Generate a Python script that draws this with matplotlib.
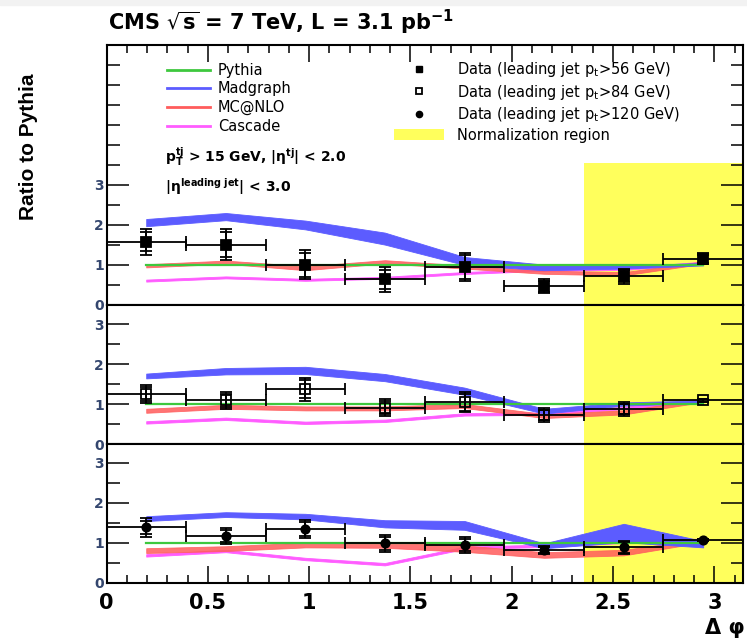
import matplotlib.pyplot as plt
from matplotlib.patches import Patch, Rectangle
from matplotlib.lines import Line2D
from matplotlib.ticker import MultipleLocator, FixedLocator
import numpy as np

plt.rcParams['font.family'] = ['DejaVu Sans']
plt.rcParams['mathtext.fontset'] = 'dejavusans'

# Delta phi bins (8 bins between 0 and pi)
dphi = [0.196, 0.589, 0.982, 1.374, 1.767, 2.160, 2.553, 2.945]
dphi_half = [0.196] * 8
norm_start = 2.356
norm_stop = np.pi

# Data / Pythia ratio, leading jet pt > 56 GeV (top panel)
data56 = [1.58, 1.51, 1.01, 0.64, 0.95, 0.47, 0.72, 1.16]
tot56 = [0.32, 0.39, 0.36, 0.31, 0.35, 0.18, 0.19, 0.14]
stat56 = [0.24, 0.31, 0.30, 0.24, 0.30, 0.14, 0.15, 0.10]
# leading jet pt > 84 GeV (middle panel)
data84 = [1.25, 1.09, 1.37, 0.91, 1.04, 0.73, 0.87, 1.09]
tot84 = [0.22, 0.21, 0.29, 0.21, 0.25, 0.17, 0.17, 0.04]
stat84 = [0.17, 0.16, 0.23, 0.17, 0.21, 0.13, 0.13, 0.03]
# leading jet pt > 120 GeV (bottom panel)
data120 = [1.39, 1.18, 1.35, 0.99, 0.95, 0.82, 0.89, 1.08]
tot120 = [0.23, 0.20, 0.23, 0.21, 0.19, 0.10, 0.17, 0.03]
stat120 = [0.17, 0.15, 0.18, 0.16, 0.15, 0.08, 0.13, 0.02]

# MC predictions / Pythia (centre and half width of the bands)
pythia = [1.0] * 8
mad56 = [2.06, 2.21, 2.00, 1.66, 1.10, 0.94, 0.95, 1.02]
mad56_w = [0.09, 0.09, 0.11, 0.15, 0.10, 0.07, 0.04, 0.03]
nlo56 = [0.98, 1.07, 0.92, 1.08, 0.95, 0.82, 0.78, 1.06]
nlo56_w = [0.04, 0.04, 0.05, 0.04, 0.04, 0.04, 0.04, 0.03]
casc56 = [0.61, 0.69, 0.63, 0.68, 0.80, 0.88, 0.90, 1.06]
casc56_w = [0.025] * 8

mad84 = [1.70, 1.82, 1.84, 1.66, 1.32, 0.82, 1.00, 1.06]
mad84_w = [0.06, 0.08, 0.09, 0.09, 0.09, 0.06, 0.04, 0.03]
nlo84 = [0.83, 0.93, 0.89, 0.89, 0.95, 0.70, 0.79, 1.08]
nlo84_w = [0.05, 0.05, 0.05, 0.05, 0.05, 0.05, 0.05, 0.03]
casc84 = [0.54, 0.63, 0.53, 0.58, 0.74, 0.76, 0.90, 1.08]
casc84_w = [0.03] * 8

mad120 = [1.61, 1.71, 1.66, 1.48, 1.44, 0.93, 1.25, 0.97]
mad120_w = [0.06, 0.06, 0.07, 0.09, 0.11, 0.06, 0.23, 0.08]
nlo120 = [0.81, 0.86, 0.95, 0.95, 0.86, 0.70, 0.76, 1.06]
nlo120_w = [0.06, 0.06, 0.06, 0.07, 0.08, 0.07, 0.07, 0.04]
casc120 = [0.69, 0.80, 0.60, 0.47, 0.88, 0.93, 1.03, 1.08]
casc120_w = [0.03] * 8

c_pythia = '#3ec83e'
c_mad = '#5c5cff'
c_nlo = '#ff5c5c'
c_casc = '#ff5cff'
c_norm = '#ffff5c'
c_ylab = '#34466e'


# Draw one panel: normalisation region, MC bands and data
def drawPanel(ax, ymax, ycut, vals, tot, stat, mstyle, mface, msize,
              mad, mad_w, nlo, nlo_w, casc, casc_w):
    ax.set_xlim(0, np.pi)
    ax.set_ylim(0, ymax)
    ax.axvspan(norm_start, norm_stop, ymin=0, ymax=ycut / ymax,
               color=c_norm, lw=0, zorder=0)
    for c, w, col, a in [(casc, casc_w, c_casc, 1.0), (nlo, nlo_w, c_nlo, 0.85),
                         (mad, mad_w, c_mad, 1.0)]:
        c = np.array(c)
        w = np.array(w)
        ax.fill_between(dphi, c - w, c + w, color=col, alpha=a, lw=0.6, zorder=2)
    ax.plot(dphi, pythia, color=c_pythia, lw=1.6, zorder=3)
    ax.errorbar(dphi, vals, xerr=dphi_half, yerr=tot, fmt=mstyle, ms=msize,
                mfc=mface, mec='black', mew=1.3, ecolor='black', elinewidth=1.3,
                capsize=4, capthick=1.3, zorder=5)
    ax.errorbar(dphi, vals, yerr=stat, fmt='none', ecolor='black',
                elinewidth=1.3, capsize=4, capthick=1.3, zorder=5)
    ax.xaxis.set_major_locator(MultipleLocator(0.5))
    ax.xaxis.set_minor_locator(MultipleLocator(0.1))
    ax.yaxis.set_major_locator(FixedLocator([0, 1, 2, 3]))
    ax.yaxis.set_minor_locator(MultipleLocator(0.5))
    ax.tick_params(axis='y', which='both', direction='in', left=True, right=True,
                   width=1.1, labelsize=10, labelcolor=c_ylab, pad=2)
    ax.tick_params(axis='y', which='major', length=16)
    ax.tick_params(axis='y', which='minor', length=9)
    ax.tick_params(axis='x', which='both', direction='in', top=False,
                   bottom=False, labelbottom=False, width=1.1)
    ax.tick_params(axis='x', which='major', length=12)
    ax.tick_params(axis='x', which='minor', length=6)
    for lab in ax.get_yticklabels():
        lab.set_fontweight('bold')
    for s in ax.spines.values():
        s.set_linewidth(1.5)


fig = plt.figure(figsize=(7.47, 6.4), dpi=100)
fig.patches.append(Rectangle((0, 1 - 5 / 640), 1, 5 / 640, transform=fig.transFigure,
                             color='#f2f2f2', zorder=-1))

left = 106.5 / 747
width = 636.5 / 747
ax1 = fig.add_axes([left, 1 - 305 / 640, width, 260 / 640])
ax2 = fig.add_axes([left, 1 - 444 / 640, width, 139 / 640])
ax3 = fig.add_axes([left, 1 - 583 / 640, width, 139 / 640])

drawPanel(ax1, 6.5, 3.55, data56, tot56, stat56, 's', 'black', 6.5,
          mad56, mad56_w, nlo56, nlo56_w, casc56, casc56_w)
drawPanel(ax2, 3.475, 3.475, data84, tot84, stat84, 's', 'none', 7,
          mad84, mad84_w, nlo84, nlo84_w, casc84, casc84_w)
drawPanel(ax3, 3.475, 3.475, data120, tot120, stat120, 'o', 'black', 6,
          mad120, mad120_w, nlo120, nlo120_w, casc120, casc120_w)

ax1.tick_params(axis='x', which='both', top=True)
ax3.tick_params(axis='x', which='both', bottom=True, labelbottom=True,
                labelsize=15, pad=7)
for lab in ax3.get_xticklabels():
    lab.set_fontweight('bold')
ax3.set_xticks([0, 0.5, 1, 1.5, 2, 2.5, 3])
ax3.set_xticklabels(['0', '0.5', '1', '1.5', '2', '2.5', '3'], fontweight='bold')

# Legends
mc_handles = [Line2D([], [], color=c_pythia, lw=2),
              Line2D([], [], color=c_mad, lw=2),
              Line2D([], [], color=c_nlo, lw=2),
              Line2D([], [], color=c_casc, lw=2)]
mc_labels = ['Pythia', 'Madgraph', 'MC@NLO', 'Cascade']
leg1 = ax1.legend(mc_handles, mc_labels, loc='upper left', bbox_to_anchor=(0.095, 0.931),
                  frameon=False, fontsize=10.5, borderpad=0, borderaxespad=0,
                  handlelength=2.95, handletextpad=0.55, labelspacing=0.24)
ax1.add_artist(leg1)

data_handles = [Line2D([], [], marker='s', ls='none', color='black', ms=5),
                Line2D([], [], marker='s', ls='none', mfc='white', mec='black', mew=1.3, ms=5),
                Line2D([], [], marker='o', ls='none', color='black', ms=4.5),
                Patch(facecolor=c_norm, edgecolor='none')]
data_labels = [r'Data (leading jet p$_\mathrm{t}$>56 GeV)',
               r'Data (leading jet p$_\mathrm{t}$>84 GeV)',
               r'Data (leading jet p$_\mathrm{t}$>120 GeV)',
               'Normalization region']
ax1.legend(data_handles, data_labels, loc='upper left', bbox_to_anchor=(0.452, 0.942),
           frameon=False, fontsize=10.5, borderpad=0, borderaxespad=0,
           handlelength=3.4, handletextpad=0.9, labelspacing=0.24)

ax1.text(0.092, 0.546, r'p$_\mathbf{T}^\mathbf{tj}$ > 15 GeV, |η$^\mathbf{tj}$| < 2.0',
         transform=ax1.transAxes, fontsize=10, fontweight='bold', va='baseline')
ax1.text(0.092, 0.4346, r'|η$^\mathbf{leading\ jet}$| < 3.0',
         transform=ax1.transAxes, fontsize=10, fontweight='bold', va='baseline')

fig.text(108 / 747, 1 - 30 / 640, r'CMS $\sqrt{\mathbf{s}}$ = 7 TeV, L = 3.1 pb$^\mathbf{-1}$',
         fontsize=15, fontweight='bold', va='baseline')
fig.text(0.0375, 0.770, 'Ratio to Pythia', rotation=90, fontsize=15,
         fontweight='bold', family=['Liberation Sans', 'DejaVu Sans'], ha='center', va='center')
fig.text(0.997, 1 - 634 / 640, 'Δ φ', fontsize=15, fontweight='bold',
         ha='right', va='baseline')

fig.savefig('out.png', dpi=100)
